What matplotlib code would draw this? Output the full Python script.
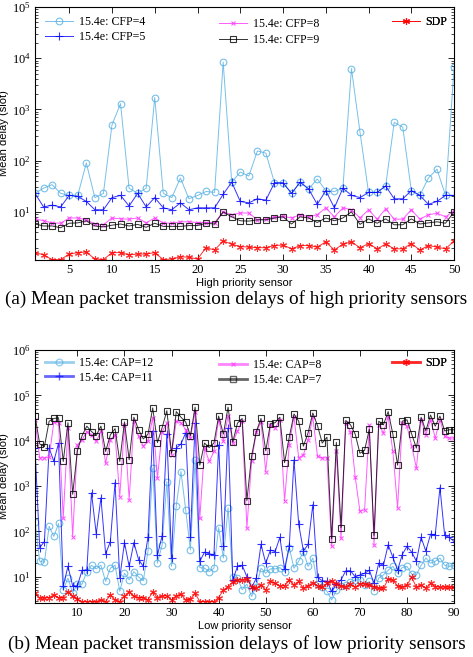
import numpy as np
import matplotlib
matplotlib.use("Agg")
import matplotlib.pyplot as plt
from matplotlib.lines import Line2D

plt.rcParams.update({
    "font.family": "Liberation Serif",
    "mathtext.fontset": "stix",
    "font.size": 9,
    "xtick.direction": "in",
    "ytick.direction": "in",
    "xtick.top": True,
    "ytick.right": True,
    "axes.linewidth": 0.8,
})

# ---- (a) high priority sensors ----
hi_sensor = np.arange(1, 51)
cfp4 = [23, 29, 34, 23, 21, 21, 90, 19, 23, 500, 1300, 29, 23, 29, 1700, 23, 19, 46, 18, 21,
        25, 24, 8400, 38, 60, 50, 155, 140, 37, 37, 23, 38, 28, 44, 26, 25, 29, 6300, 360, 24,
        24, 32, 560, 450, 26, 21, 46, 68, 21, 6700]
cfp5 = [23, 12.5, 13.5, 12.5, 21, 20, 16, 11, 11, 19, 21, 13, 23, 12.5, 19, 12, 11, 15, 11, 12,
        12, 12, 22, 38, 16, 15, 18, 17, 37, 37, 23, 38, 28, 14, 26, 12, 29, 21, 19, 24,
        24, 32, 18, 18, 26, 21, 14, 16, 21, 21]
cfp8 = [7.3, 6.7, 6.1, 6.0, 7.6, 7.6, 7.0, 5.8, 5.6, 7.6, 7.3, 7.2, 7.6, 6.1, 7.6, 6.1, 6.0, 6.4, 6.4, 6.2,
        6.2, 6.2, 10, 8.8, 9.5, 9.5, 7.0, 7.2, 8.0, 8.2, 7.6, 8.8, 8.0, 8.8, 12, 8.0, 12, 11, 7.6, 11,
        7.2, 11.5, 7.2, 7.2, 11, 7.2, 8.8, 9.4, 8.0, 10.5]
cfp9 = [5.8, 5.3, 5.3, 4.9, 6.0, 6.1, 6.7, 5.3, 5.1, 5.5, 5.8, 5.3, 5.7, 5.0, 6.0, 5.2, 5.2, 5.2, 5.4, 5.4,
        6.0, 5.8, 10, 8.0, 6.7, 6.6, 7.0, 7.0, 7.6, 8.0, 5.8, 8.0, 7.6, 6.2, 7.6, 6.7, 7.6, 10, 5.7, 7.3,
        6.0, 7.3, 5.6, 5.6, 7.3, 5.8, 6.1, 6.4, 6.0, 10]
sdp_hi = [1.6, 1.45, 1.17, 1.17, 1.5, 1.6, 1.65, 1.2, 1.17, 1.6, 1.6, 1.45, 1.5, 1.5, 1.6, 1.17, 1.2, 1.33, 1.3, 1.2,
          2.0, 1.8, 2.7, 2.35, 2.1, 2.05, 2.0, 2.0, 2.2, 2.25, 1.9, 2.2, 2.2, 2.05, 2.6, 1.8, 2.35, 2.6, 2.0, 2.4,
          1.9, 2.35, 1.9, 1.9, 2.4, 1.8, 2.2, 2.05, 1.9, 2.7]

# ---- (b) low priority sensors ----
lo_sensor = np.arange(1, 91)
cap12 = [165, 22, 21, 130, 78, 150, 5.2, 9.4, 4.4, 6.9,
         6.9, 13, 18, 15, 18, 7.9, 15.5, 18, 4.8, 12,
         8.6, 13, 10, 8.2, 37, 2500, 20, 51, 1260, 17,
         370, 2100, 300, 39, 3800, 16, 15.5, 13, 15.5, 122,
         26, 330, 10, 9.4, 5.2, 6.9, 3.7, 6.1, 15.5, 12,
         15, 15, 16, 13, 44, 15.5, 22, 36, 17, 26,
         6.9, 6.1, 4.8, 3.1, 5.0, 6.4, 6.6, 7.6, 8.6, 8.6,
         6.6, 7.9, 4.8, 9.4, 11, 14, 17, 12, 16, 17,
         11.5, 11, 18, 26, 20, 22, 26, 18, 17, 18]
cap11 = [7000, 44, 60, 6900, 3500, 8900, 6.3, 17, 6.3, 6.3,
         14, 14, 710, 89, 550, 32, 60, 1200, 9.5, 57,
         17, 57, 24, 17, 76, 16500, 30, 81, 14000, 26,
         6900, 8500, 15000, 74, 25000, 22, 35, 32, 31, 8100,
         47, 19000, 8.5, 17, 18, 10, 5.8, 9.3, 52, 20,
         39, 36, 74, 15, 47, 3800, 145, 37, 52, 390,
         9.7, 8.2, 8.0, 4.8, 6.9, 8.6, 13.6, 13.6, 10, 11,
         12, 14, 7.2, 20, 18, 51, 27, 14, 31, 47,
         35, 22, 74, 37, 87, 85, 930, 82, 74, 60]
cap8 = [29000, 4200, 4200, 4300, 26000, 25000, 200, 19000, 77, 8100,
        10500, 16000, 13500, 9700, 16500, 3200, 10500, 13500, 590, 22000,
        500, 27000, 12500, 7600, 9700, 32000, 1500, 16000, 24500, 4900,
        27000, 25000, 17500, 11500, 44000, 195, 6900, 3500, 5800, 29000,
        9800, 35000, 8900, 16500, 27000, 120, 3500, 15500, 26000, 2100,
        22000, 19000, 29000, 480, 8100, 34000, 4200, 4900, 10500, 33000,
        4500, 4200, 4200, 47, 5800, 71, 24500, 16000, 1600, 280,
        300, 22000, 51, 22000, 15000, 34000, 5800, 330, 24500, 21000,
        7600, 2500, 29000, 13500, 29000, 11500, 29000, 12500, 11500, 11500]
cap7 = [36000, 8500, 7400, 27000, 31000, 32000, 3500, 25000, 660, 6000,
        13000, 21000, 16000, 13000, 21000, 5800, 13500, 18500, 3500, 26000,
        3800, 33000, 17500, 11000, 14000, 53000, 9100, 19500, 46000, 5300,
        44000, 33000, 26000, 13000, 55000, 2900, 8900, 7100, 8900, 35000,
        14000, 55000, 9400, 24500, 31000, 480, 4600, 16000, 31000, 6000,
        24000, 25000, 33000, 3300, 12000, 39000, 27000, 7600, 15000, 41000,
        21500, 8900, 12000, 69, 9200, 122, 28000, 22500, 14000, 5300,
        6200, 18000, 82, 27000, 22500, 44000, 14000, 2900, 27000, 29000,
        14000, 6900, 33000, 16500, 37000, 21000, 35000, 16500, 17500, 17500]
sdp_lo = [4.3, 3.4, 3.4, 3.5, 4.0, 3.4, 3.5, 4.7, 3.7, 3.2,
          2.85, 2.85, 2.85, 2.85, 3.1, 2.85, 4.0, 3.1, 2.85, 3.7,
          4.7, 3.7, 3.5, 3.5, 3.1, 4.7, 3.5, 3.8, 3.8, 3.1,
          3.8, 4.1, 3.1, 3.2, 4.3, 2.85, 2.85, 2.85, 2.85, 3.5,
          5.1, 6.1, 7.8, 8.5, 8.5, 8.9, 6.1, 5.6, 6.6, 5.1,
          7.9, 7.2, 6.3, 6.3, 8.5, 6.6, 7.9, 5.6, 6.3, 7.5,
          6.3, 5.9, 7.2, 8.3, 7.0, 6.3, 5.9, 7.0, 5.9, 7.0,
          7.0, 6.6, 6.1, 5.6, 5.6, 8.9, 8.5, 6.3, 5.9, 6.6,
          9.8, 5.9, 6.6, 5.6, 7.2, 6.1, 5.9, 5.9, 5.9, 5.9]

LBLUE = "#55b0e4"
ASTER = (6, 2, 0)

# series style: (marker, colour, markersize)
styles = [
    ("o", LBLUE, 4.8),
    ("+", "#0000ff", 6),
    ("x", "#ff33ff", 3.5),
    ("s", "#000000", 4),
    (ASTER, "#ff0000", 5),
]


def style_axes(ax, xticks, xlim, ylim, xlabel):
    ax.set_yscale("log")
    ax.set_xlim(*xlim)
    ax.set_ylim(*ylim)
    ax.set_xticks(xticks)
    ax.tick_params(which="major", length=4, width=0.6, labelsize=9, pad=3)
    ax.tick_params(which="minor", length=2, width=0.5)
    ax.set_xlabel(xlabel, family="Liberation Sans", fontsize=8, labelpad=1)
    ax.set_ylabel("Mean delay (slot)", family="Liberation Sans", fontsize=8, labelpad=2)


def draw(ax, x, series, lw=0.7, alpha=0.8):
    lines = []
    for y, (m, c, ms) in zip(series, styles):
        ln, = ax.plot(x, y, color=c, lw=lw, alpha=alpha, marker=m, ms=ms,
                      mfc="none", mec=c, mew=0.8)
        lines.append(ln)
    return lines


def legends(ax, handles, labels, y0, spacing):
    groups = [([0, 1], 0.024), ([2, 3], 0.44), ([4], 0.852)]
    for k, (idx, xa) in enumerate(groups):
        lg = ax.legend([handles[i] for i in idx], [labels[i] for i in idx],
                       loc="upper left", bbox_to_anchor=(xa, y0[k]),
                       frameon=False, borderpad=0, borderaxespad=0,
                       handlelength=2.3, handletextpad=0.5, labelspacing=spacing[k],
                       fontsize=8.6)
        ax.add_artist(lg)


fig = plt.figure(figsize=(4.73, 6.57), dpi=100)

# (a)
ax1 = fig.add_axes([0.074, 0.6043, 0.886, 0.385])
h1 = draw(ax1, hi_sensor, [cfp4, cfp5, cfp8, cfp9, sdp_hi])
style_axes(ax1, np.arange(5, 51, 5), (1, 50), (1.15, 1e5), "High priority sensor")
legends(ax1, h1, ["15.4e: CFP=4", "15.4e: CFP=5", "15.4e: CFP=8", "15.4e: CFP=9", "SDP"],
        [0.963, 0.956, 0.963], [0.2, 0.35, 0.2])
fig.text(0.5, 0.545, "(a) Mean packet transmission delays of high priority sensors",
         ha="center", va="center", fontsize=13.8)

# (b)
ax2 = fig.add_axes([0.074, 0.0822, 0.886, 0.385])
draw(ax2, lo_sensor, [cap12, cap11, cap8, cap7, sdp_lo])
style_axes(ax2, np.arange(10, 91, 10), (1, 90), (2.65, 1e6), "Low priority sensor")
proxies = [Line2D([], [], color=c, lw=2, alpha=0.6, marker=m, ms=ms, mfc="none", mec=c)
           for (m, c, ms) in styles]
legends(ax2, proxies, ["15.4e: CAP=12", "15.4e: CAP=11", "15.4e: CAP=8", "15.4e: CAP=7", "SDP"],
        [0.972, 0.965, 0.972], [0.2, 0.3, 0.2])
fig.text(0.5, 0.02, "(b) Mean packet transmission delays of low priority sensors",
         ha="center", va="center", fontsize=13.8)

fig.savefig("out.png", dpi=100)
